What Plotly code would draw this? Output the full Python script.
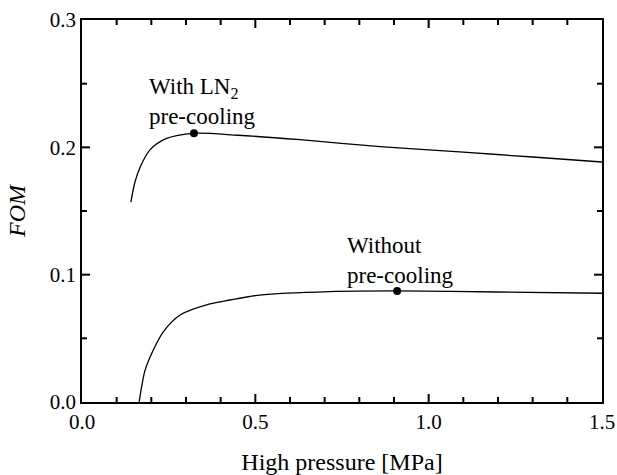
import numpy as np
import plotly.graph_objects as go

# FOM vs high pressure, with and without LN2 pre-cooling
p_ln2 = [0.141, 0.152, 0.167, 0.196, 0.244, 0.323, 0.45, 0.629, 0.86, 1.1, 1.3, 1.5]
fom_ln2 = [0.157, 0.172, 0.184, 0.198, 0.207, 0.211, 0.2095, 0.206, 0.2006, 0.1962, 0.1924, 0.1885]

p_no = [0.165, 0.172, 0.182, 0.206, 0.235, 0.283, 0.369, 0.427, 0.513, 0.715, 0.909, 1.2, 1.5]
fom_no = [0.0, 0.012, 0.025, 0.041, 0.0553, 0.0683, 0.0770, 0.0801, 0.0840, 0.0867, 0.0872, 0.0864, 0.0854]

# maximum FOM points
peak_p = [0.323, 0.909]
peak_fom = [0.211, 0.0872]

X_RANGE = [0, 1.5]
Y_RANGE = [0, 0.3]
X_MAJOR, X_MINOR = 0.5, 0.1
Y_MAJOR, Y_MINOR = 0.1, 0.05
FONT = "Liberation Serif"

W, H = 617, 475
M = dict(l=82, r=15, t=20, b=73)

fig = go.Figure()
fig.add_trace(go.Scatter(x=p_ln2, y=fom_ln2, mode="lines",
                         line=dict(color="black", width=1.3, shape="spline", smoothing=0.8),
                         showlegend=False))
fig.add_trace(go.Scatter(x=p_no, y=fom_no, mode="lines",
                         line=dict(color="black", width=1.3, shape="spline", smoothing=0.8),
                         showlegend=False))
fig.add_trace(go.Scatter(x=peak_p, y=peak_fom, mode="markers",
                         marker=dict(color="black", size=8),
                         showlegend=False))

fig.add_annotation(x=0.1875, y=0.2357, xref="x", yref="y", xanchor="left", yanchor="middle",
                   text="With LN<sub>2</sub><br>pre-cooling", showarrow=False, align="left",
                   font=dict(family=FONT, size=23, color="black"))
fig.add_annotation(x=0.7586, y=0.1115, xref="x", yref="y", xanchor="left", yanchor="middle",
                   text="Without<br>pre-cooling", showarrow=False, align="left",
                   font=dict(family=FONT, size=23, color="black"))

# inward tick marks on all four sides of the frame (major 8 px, minor 5 px)
x_per_px = (X_RANGE[1] - X_RANGE[0]) / (W - M["l"] - M["r"])
y_per_px = (Y_RANGE[1] - Y_RANGE[0]) / (H - M["t"] - M["b"])


def is_major(v, step):
    return abs(v / step - round(v / step)) < 1e-6


tick_line = dict(color="black", width=2)
for v in np.round(np.arange(X_RANGE[0], X_RANGE[1] + 1e-9, X_MINOR), 3)[1:-1]:
    n = (8 if is_major(v, X_MAJOR) else 5) * y_per_px
    fig.add_shape(type="line", xref="x", yref="y", x0=v, x1=v,
                  y0=Y_RANGE[0], y1=Y_RANGE[0] + n, line=tick_line, layer="above")
    fig.add_shape(type="line", xref="x", yref="y", x0=v, x1=v,
                  y0=Y_RANGE[1], y1=Y_RANGE[1] - n, line=tick_line, layer="above")
for v in np.round(np.arange(Y_RANGE[0], Y_RANGE[1] + 1e-9, Y_MINOR), 3)[1:-1]:
    n = (8 if is_major(v, Y_MAJOR) else 5) * x_per_px
    fig.add_shape(type="line", xref="x", yref="y", y0=v, y1=v,
                  x0=X_RANGE[0], x1=X_RANGE[0] + n, line=tick_line, layer="above")
    fig.add_shape(type="line", xref="x", yref="y", y0=v, y1=v,
                  x0=X_RANGE[1], x1=X_RANGE[1] - n, line=tick_line, layer="above")

# frame line and tick labels
frame = dict(showline=True, linecolor="black", linewidth=1.5, mirror=True, ticks="",
             showgrid=False, zeroline=False, automargin=False,
             tickfont=dict(family=FONT, size=21, color="black"))

fig.update_layout(
    width=W, height=H, margin=M,
    plot_bgcolor="white", paper_bgcolor="white",
    font=dict(family=FONT, size=20, color="black"),
    xaxis=dict(range=X_RANGE, tickmode="linear", tick0=0, dtick=X_MAJOR, tickformat=".1f",
               title=dict(text="High pressure [MPa]", standoff=23), **frame),
    yaxis=dict(range=Y_RANGE, tickmode="linear", tick0=0, dtick=Y_MAJOR, tickformat=".1f",
               title=dict(text="<i>FOM</i>", standoff=17), **frame),
)

fig.write_html("out.html")
